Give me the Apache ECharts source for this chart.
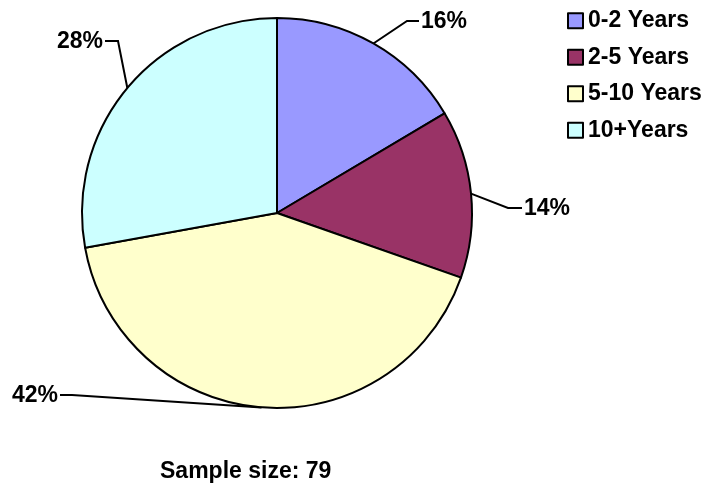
<!DOCTYPE html>
<html>
<head>
<meta charset="utf-8">
<script src="https://cdn.jsdelivr.net/npm/echarts@6/dist/echarts.min.js"></script>
<style>
html,body{margin:0;padding:0;background:#fff;}
#chart{width:711px;height:488px;}
</style>
</head>
<body>
<div id="chart"></div>
<script>
const categories = ['0-2 Years', '2-5 Years', '5-10 Years', '10+Years'];
const counts = [13, 11, 33, 22];
const sampleSize = 79;
const colors = ['#9999FF', '#993366', '#FFFFCC', '#CCFFFF'];

const FONT = '"Liberation Sans", Arial, Helvetica, sans-serif';

// label placement (pixel layout) per slice
const labelPlace = [
  { x: 421, y: 22, align: 'left',  elbow: [407, 21], end: [419, 21] },
  { x: 524, y: 209, align: 'left', elbow: [508, 208], end: [522, 208] },
  { x: 58,  y: 396, align: 'right', elbow: [72, 395], end: [60, 395] },
  { x: 103, y: 42, align: 'right', elbow: [118, 41], end: [105, 41] }
];

const chart = echarts.init(document.getElementById('chart'), null, { renderer: 'canvas' });

chart.setOption({
  animation: false,
  backgroundColor: '#fff',
  color: colors,
  legend: {
    orient: 'vertical',
    left: 567,
    top: 9,
    padding: 0,
    icon: 'rect',
    itemWidth: 15,
    itemHeight: 15,
    itemGap: 13,
    data: categories,
    textStyle: { fontFamily: FONT, fontSize: 23, fontWeight: 'bold', color: '#000', lineHeight: 23.5 },
    itemStyle: { borderColor: '#000', borderWidth: 2 }
  },
  graphic: [{
    type: 'text',
    left: 160,
    top: 460,
    style: {
      text: 'Sample size: ' + sampleSize,
      font: 'bold 23px ' + FONT,
      fill: '#000'
    }
  }],
  series: [{
    type: 'pie',
    center: [277, 213],
    radius: 195,
    startAngle: 90,
    clockwise: true,
    percentPrecision: 0,
    data: categories.map((c, i) => ({ name: c, value: counts[i] })),
    itemStyle: { borderColor: '#000', borderWidth: 2 },
    emphasis: { disabled: true },
    label: {
      show: true,
      formatter: '{d}%',
      fontFamily: FONT,
      fontSize: 23,
      fontWeight: 'bold',
      color: '#000'
    },
    labelLine: {
      show: true,
      lineStyle: { color: '#000', width: 2 }
    },
    labelLayout: function (params) {
      const p = labelPlace[params.dataIndex];
      const start = params.labelLinePoints ? params.labelLinePoints[0] : p.elbow;
      return {
        x: p.x,
        y: p.y,
        align: p.align,
        verticalAlign: 'middle',
        labelLinePoints: [start, p.elbow, p.end]
      };
    }
  }]
});
</script>
</body>
</html>
